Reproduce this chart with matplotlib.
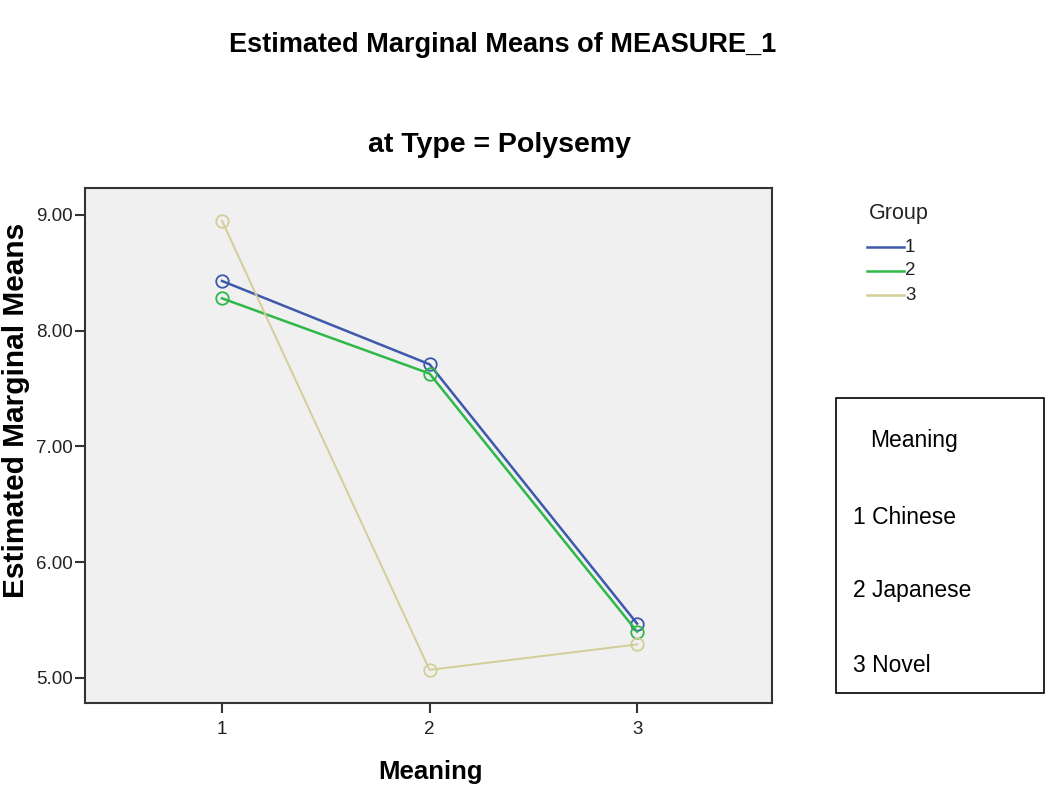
import matplotlib.pyplot as plt
from matplotlib.patches import Rectangle

plt.rcParams['font.family'] = ['Liberation Sans', 'DejaVu Sans']

# Datos
meaning = [1, 2, 3]
grupo_1 = [8.43, 7.71, 5.47]
grupo_2 = [8.28, 7.63, 5.40]
grupo_3 = [8.95, 5.07, 5.29]
grupos = ['1', '2', '3']
colores = ['#3E58AC', '#2EB848', '#D3CE97']
y_ticks = [5.0, 6.0, 7.0, 8.0, 9.0]
leyenda_meaning = ['1 Chinese', '2 Japanese', '3 Novel']

W, H = 1046, 785
fig = plt.figure(figsize=(W / 100, H / 100), dpi=100)
ax = fig.add_axes([85 / W, 1 - 703 / H, (772 - 85) / W, (703 - 188) / H])
ax.set_facecolor('#F0F0F0')

for valores, color, nombre in zip([grupo_1, grupo_2, grupo_3], colores, grupos):
    ax.plot(meaning, valores, color=color, lw=1.8 if nombre != '3' else 1.4,
            marker='o', markersize=9, markerfacecolor='none',
            markeredgecolor=color, markeredgewidth=1.3, label=nombre)

ax.set_xlim(0.34, 3.65)
ax.set_ylim(4.784, 9.233)
ax.set_xticks(meaning)
ax.set_yticks(y_ticks)
ax.set_yticklabels([f'{v:.2f}' for v in y_ticks])
ax.tick_params(labelsize=13.5, length=7, width=1.5, color='#333333', labelcolor='#222222', pad=2)
ax.tick_params(axis='x', pad=6)
for s in ax.spines.values():
    s.set_linewidth(1.5)
    s.set_color('#333333')

fig.text(430 / W, 1 - 772 / H, 'Meaning', ha='center', va='center', fontsize=18.5, fontweight='bold')
fig.text(16 / W, 1 - 410 / H, 'Estimated Marginal Means', ha='center', va='center',
         rotation=90, fontsize=21.5, fontweight='bold')

fig.text(503 / W, 1 - 45 / H, 'Estimated Marginal Means of MEASURE_1',
         ha='center', va='center', fontsize=19.5, fontweight='bold')
fig.text(499 / W, 1 - 145 / H, 'at Type = Polysemy',
         ha='center', va='center', fontsize=20.5, fontweight='bold')

# Leyenda de grupos
fig.text(869 / W, 1 - 213 / H, 'Group', ha='left', va='center', fontsize=15.5, color='#222222')
for i, (color, nombre) in enumerate(zip(colores, grupos)):
    yy = 1 - (247 + i * 24) / H
    fig.add_artist(plt.Line2D([867 / W, 904 / W], [yy, yy], color=color, lw=1.8))
    fig.text(905 / W, yy, nombre, ha='left', va='center', fontsize=13.5, color='#222222')

# Cuadro de texto Meaning
fig.add_artist(Rectangle((836 / W, 1 - 693 / H), (1044 - 836) / W, (693 - 398) / H,
                         transform=fig.transFigure, fill=False, edgecolor='black', lw=1.2))
fig.text(870 / W, 1 - 441 / H, 'Meaning', ha='left', va='center', fontsize=16.5)
for i, t in enumerate(leyenda_meaning):
    fig.text(853 / W, 1 - (517 + i * 74) / H, t, ha='left', va='center', fontsize=16.5)

fig.savefig('out.png', dpi=100)
